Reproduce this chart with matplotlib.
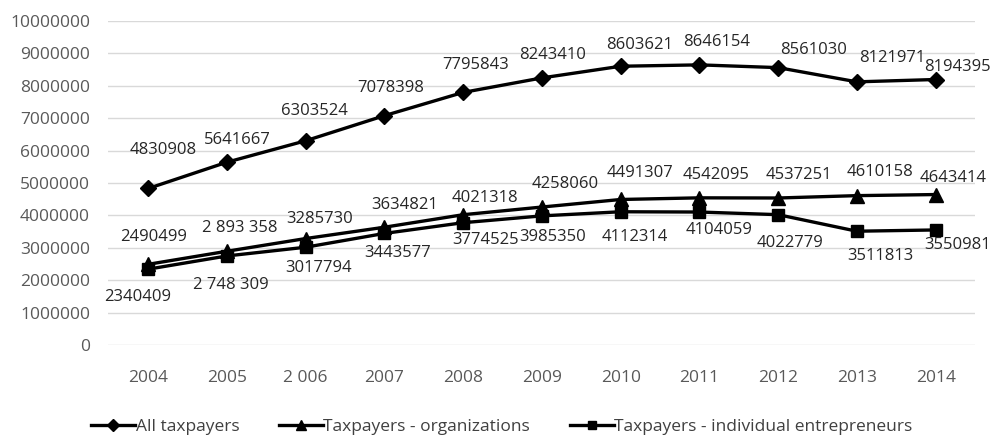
import matplotlib
matplotlib.use("Agg")
import matplotlib.pyplot as plt

years = ["2004", "2005", "2 006", "2007", "2008", "2009", "2010", "2011", "2012", "2013", "2014"]
all_tax = [4830908, 5641667, 6303524, 7078398, 7795843, 8243410, 8603621, 8646154, 8561030, 8121971, 8194395]
org_tax = [2490499, 2893358, 3285730, 3634821, 4021318, 4258060, 4491307, 4542095, 4537251, 4610158, 4643414]
ind_tax = [2340409, 2748309, 3017794, 3443577, 3774525, 3985350, 4112314, 4104059, 4022779, 3511813, 3550981]
all_lbl = ["4830908", "5641667", "6303524", "7078398", "7795843", "8243410", "8603621", "8646154", "8561030", "8121971", "8194395"]
org_lbl = ["2490499", "2 893 358", "3285730", "3634821", "4021318", "4258060", "4491307", "4542095", "4537251", "4610158", "4643414"]
ind_lbl = ["2340409", "2 748 309", "3017794", "3443577", "3774525", "3985350", "4112314", "4104059", "4022779", "3511813", "3550981"]
names = ["All taxpayers", "Taxpayers - organizations", "Taxpayers - individual entrepreneurs"]

# label offsets in pixels (dx, dy downward positive)
all_off = [(15, -38), (10, -22), (9, -30), (6, -28), (12, -27), (11, -23), (19, -21), (17, -23), (35, -18), (35, -24), (22, -13)]
org_off = [(5, -27), (13, -23), (14, -20), (20, -22), (22, -17), (23, -23), (19, -26), (17, -23), (21, -23), (23, -24), (17, -17)]
ind_off = [(-11, 28), (4, 29), (13, 21), (13, 20), (22, 17), (11, 21), (14, 25), (20, 18), (12, 28), (23, 25), (22, 15)]

plt.rcParams['font.family'] = ['Open Sans', 'DejaVu Sans']
fig = plt.figure(figsize=(9.95, 4.37), dpi=100)
ax = fig.add_axes([108/995, 1-345/437, (975-108)/995, (345-21)/437])

x = list(range(len(years)))
series = [(all_tax, all_lbl, all_off, 'D', 8), (org_tax, org_lbl, org_off, '^', 10), (ind_tax, ind_lbl, ind_off, 's', 8)]
handles = []
for (vals, lbls, offs, mk, ms), nm in zip(series, names):
    h, = ax.plot(x, vals, color='black', lw=2.4, marker=mk, markersize=ms, label=nm, zorder=3)
    handles.append(h)
    for xi, v, l, (dx, dy) in zip(x, vals, lbls, offs):
        ax.annotate(l, (xi, v), xytext=(dx*0.72, -dy*0.72), textcoords='offset points',
                    ha='center', va='center', fontsize=12, color='#262626', zorder=4)

ax.set_xlim(-0.51, 10.5)
ax.set_ylim(0, 10000000)
ax.set_yticks(range(0, 10000001, 1000000))
ax.set_yticklabels([str(v) for v in range(0, 10000001, 1000000)])
ax.set_xticks(x)
ax.set_xticklabels(years)
ax.tick_params(axis='both', length=0, labelsize=12.5, labelcolor='#595959')
ax.tick_params(axis='y', pad=13)
ax.tick_params(axis='x', pad=18)
ax.grid(axis='y', color='#d9d9d9', lw=1)
ax.set_axisbelow(True)
for s in ax.spines.values():
    s.set_visible(False)

leg = fig.legend(handles=handles, loc='center', bbox_to_anchor=(502/995, 1-427/437), ncol=3,
                 frameon=False, fontsize=12.5, handlelength=2.5, handletextpad=0.05, columnspacing=2.3,
                 markerscale=0.75)
for t in leg.get_texts():
    t.set_color('#404040')

fig.savefig("out.png", dpi=100)
